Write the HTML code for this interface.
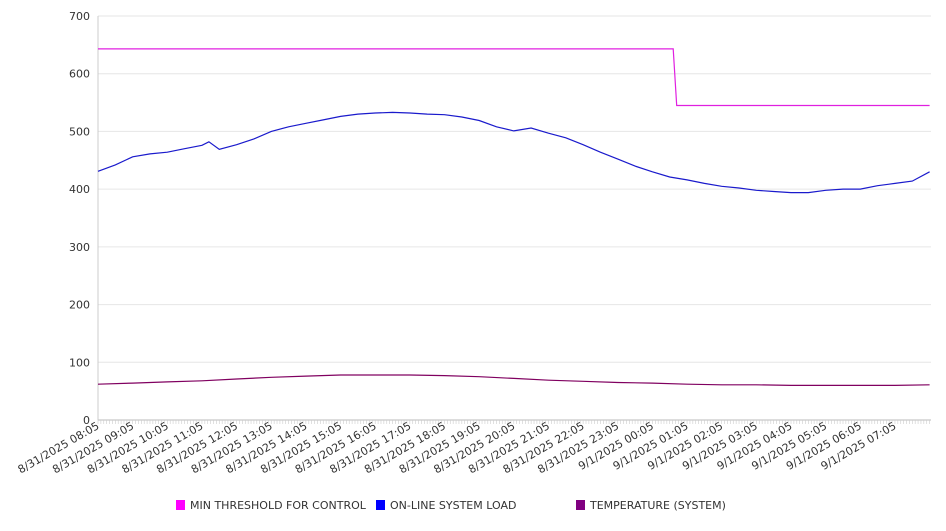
<!DOCTYPE html>
<html><head><meta charset="utf-8"><style>
body{margin:0;background:#fff;width:946px;height:526px;overflow:hidden;font-family:"Liberation Sans","DejaVu Sans",sans-serif}
svg text{font-family:"DejaVu Sans","Liberation Sans",sans-serif}
</style></head><body>
<svg id="chart" width="946" height="526" xmlns="http://www.w3.org/2000/svg"></svg>
<script>
const yTicks=[0,100,200,300,400,500,600,700];
const xTickLabels=["8/31/2025 08:05","8/31/2025 09:05","8/31/2025 10:05","8/31/2025 11:05","8/31/2025 12:05","8/31/2025 13:05","8/31/2025 14:05","8/31/2025 15:05","8/31/2025 16:05","8/31/2025 17:05","8/31/2025 18:05","8/31/2025 19:05","8/31/2025 20:05","8/31/2025 21:05","8/31/2025 22:05","8/31/2025 23:05","9/1/2025 00:05","9/1/2025 01:05","9/1/2025 02:05","9/1/2025 03:05","9/1/2025 04:05","9/1/2025 05:05","9/1/2025 06:05","9/1/2025 07:05"];
// hours since 08:05
const thresholdHours=[0,16.6,16.7,24];
const thresholdValues=[643,643,545,545];
const loadHours=[0,0.5,1,1.5,2,2.5,3,3.2,3.5,4,4.5,5,5.5,6,6.5,7,7.5,8,8.5,9,9.5,10,10.5,11,11.5,12,12.5,13,13.5,14,14.5,15,15.5,16,16.5,17,17.5,18,18.5,19,19.5,20,20.5,21,21.5,22,22.5,23,23.5,24];
const loadValues=[431,442,456,461,464,470,476,482,469,477,487,500,508,514,520,526,530,532,533,532,530,529,525,519,508,501,506,497,489,477,464,452,440,430,421,416,410,405,402,398,396,394,394,398,400,400,406,410,414,430];
const tempHours=[0,1,2,3,4,5,6,7,8,9,10,11,12,13,14,15,16,17,18,19,20,21,22,23,24];
const tempValues=[62,64,66,68,71,74,76,78,78,78,77,75,72,69,67,65,64,62,61,61,60,60,60,60,61];
const X0=98,X1=931,Y0=420,Y1=16;
const xs=h=>X0+(X1-X0)*h/24.04;
const ys=v=>Y0-(Y0-Y1)*v/700;
const svg=document.getElementById('chart');
const NS='http://www.w3.org/2000/svg';
function mk(tag,attrs,parent){const e=document.createElementNS(NS,tag);for(const k in attrs)e.setAttribute(k,attrs[k]);(parent||svg).appendChild(e);return e;}
yTicks.forEach(v=>{
  const g=mk('line',{x1:X0,x2:X1,y1:ys(v),y2:ys(v),stroke:v===0?'#bbb':'#e6e6e6','stroke-width':1});
  
  
  const t=mk('text',{x:90,y:ys(v)+4,'text-anchor':'end','font-size':11,fill:'#333'});
  t.textContent=v;
  
  
});
const ax=mk('line',{x1:X0,x2:X0,y1:Y1,y2:Y0,stroke:'#ccc'});


for(let i=0;i<=288;i++){const x=xs(i/12);const tk=mk('line',{x1:x,x2:x,y1:Y0,y2:Y0+4,stroke:'#ccc','stroke-width':0.6});

}
xTickLabels.forEach((l,i)=>{const x=xs(i);
  const t=mk('text',{x:x+2,y:Y0+8,'text-anchor':'end','font-size':11,fill:'#333',transform:`rotate(-30 ${x+2} ${Y0+8})`});
  t.textContent=l;
  
  
});
function line(hs,vs,color,name){
  const d=hs.map((h,i)=>(i?'L':'M')+xs(h).toFixed(1)+','+ys(vs[i]).toFixed(1)).join(' ');
  const p=mk('path',{d:d,fill:'none',stroke:color,'stroke-width':1.2});
  
  
}
line(thresholdHours,thresholdValues,'#e020e0','min-threshold-line');
line(loadHours,loadValues,'#1a1acc','system-load-line');
line(tempHours,tempValues,'#800060','temperature-line');
const legend=[['MIN THRESHOLD FOR CONTROL','#ff00ff',176],['ON-LINE SYSTEM LOAD','#0000ff',376],['TEMPERATURE (SYSTEM)','#800080',576]];
legend.forEach(([n,c,x])=>{
  const r=mk('rect',{x:x,y:500,width:9,height:10,fill:c});
  
  
  const t=mk('text',{x:x+14,y:509,'font-size':11,fill:'#333'});
  t.textContent=n;
  
  
});
</script>
</body></html>
